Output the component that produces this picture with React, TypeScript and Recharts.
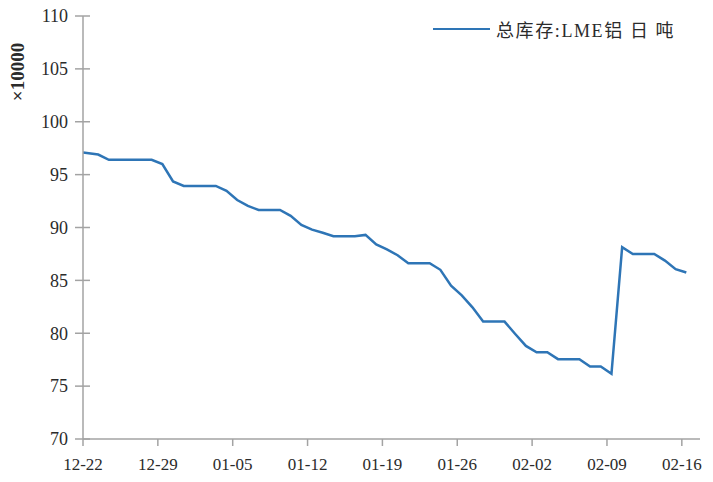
import React from 'react'
import { LineChart, Line, XAxis, YAxis } from 'recharts'

// LME aluminium total stocks, unit: 10,000 t (daily, forward-filled on non-trading days)
const stockValues = [
  97.1, 96.9, 96.4, 96.4, 96.4, 96.4, 96.4, 96.0, 94.35, 93.93,
  93.93, 93.93, 93.93, 93.46, 92.6, 92.04, 91.66, 91.66, 91.66, 91.1,
  90.25, 89.8, 89.5, 89.17, 89.17, 89.17, 89.3, 88.4, 87.93, 87.38,
  86.63, 86.63, 86.63, 86.0, 84.5, 83.58, 82.45, 81.1, 81.1, 81.1,
  79.93, 78.8, 78.2, 78.2, 77.55, 77.55, 77.55, 76.85, 76.85, 76.16,
  88.14, 87.5, 87.5, 87.5, 86.87, 86.06, 85.74,
]

// points sit a little after the date tick (except the first one)
const dayPos = stockValues.map((_, i) => (i === 0 ? 0 : i + 0.42))

const xTickDays = [0, 7, 14, 21, 28, 35, 42, 49, 56]
const xTickLabels = ['12-22', '12-29', '01-05', '01-12', '01-19', '01-26', '02-02', '02-09', '02-16']
const yTicks = [70, 75, 80, 85, 90, 95, 100, 105, 110]

const SERIES_NAME = '总库存:LME铝 日 吨'
const LINE_COLOR = '#2E75B6'
const AXIS_COLOR = '#a3a3a3'
const TEXT_COLOR = '#2b2b2b'
const FONT = '"Liberation Serif", "Noto Sans CJK SC", serif'

const data = stockValues.map((v, i) => ({ day: dayPos[i], stock: v }))

function YTick(props: any) {
  const { x, y, payload } = props
  const axisX = x + 15
  return (
    <g>
      <line x1={axisX - 8} x2={axisX + 7} y1={y} y2={y} stroke={AXIS_COLOR} strokeWidth={1.5} />
      <text x={x} y={y} dy="0.35em" textAnchor="end" fill={TEXT_COLOR} style={{ fontFamily: FONT, fontSize: 18 }}>
        {payload.value}
      </text>
    </g>
  )
}

function XTick(props: any) {
  const { x, y, payload } = props
  return (
    <text x={x} y={y} dy="0.71em" textAnchor="middle" fill={TEXT_COLOR} style={{ fontFamily: FONT, fontSize: 17 }}>
      {xTickLabels[xTickDays.indexOf(payload.value)]}
    </text>
  )
}

export default function App() {
  return (
    <div style={{ position: 'absolute', left: 0, top: 0, width: 713, height: 482, background: '#fff' }}>
      <LineChart width={713} height={482} data={data} margin={{ top: 16, right: 13, bottom: 0, left: 0 }}>
        <XAxis
          dataKey="day"
          type="number"
          domain={[0, 57.7]}
          allowDataOverflow
          ticks={xTickDays}
          height={43}
          tickSize={7}
          tickMargin={12}
          axisLine={{ stroke: AXIS_COLOR, strokeWidth: 1.5 }}
          tickLine={{ stroke: AXIS_COLOR, strokeWidth: 1.5 }}
          tick={<XTick />}
        />
        <YAxis
          type="number"
          domain={[70, 110]}
          ticks={yTicks}
          width={83}
          tickSize={8}
          tickMargin={7}
          tickLine={false}
          axisLine={{ stroke: AXIS_COLOR, strokeWidth: 1.5 }}
          tick={<YTick />}
        />
        <Line
          dataKey="stock"
          name={SERIES_NAME}
          stroke={LINE_COLOR}
          strokeWidth={2.5}
          dot={false}
          isAnimationActive={false}
        />
      </LineChart>
      {/* unit label */}
      <div
        style={{
          position: 'absolute',
          left: 18,
          top: 72,
          transform: 'translate(-50%, -50%) rotate(-90deg)',
          fontFamily: FONT,
          fontSize: 19,
          fontWeight: 'bold',
          color: TEXT_COLOR,
          whiteSpace: 'nowrap',
        }}
      >
        ×10000
      </div>
      {/* legend */}
      <div
        style={{
          position: 'absolute',
          left: 433,
          top: 16,
          display: 'flex',
          alignItems: 'center',
          fontFamily: FONT,
          fontSize: 18,
          letterSpacing: 1.6,
          color: TEXT_COLOR,
          whiteSpace: 'nowrap',
        }}
      >
        <span style={{ display: 'inline-block', width: 57, height: 2.5, background: LINE_COLOR, marginRight: 6 }} />
        <span>{SERIES_NAME}</span>
      </div>
    </div>
  )
}
